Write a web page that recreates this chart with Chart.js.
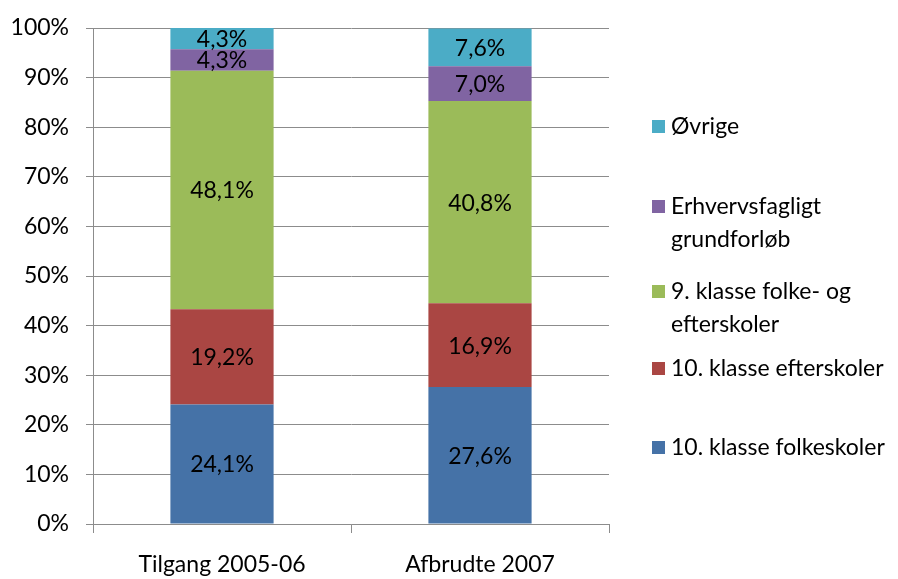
<!DOCTYPE html>
<html><head><meta charset="utf-8">
<script src="https://cdn.jsdelivr.net/npm/chart.js@4/dist/chart.umd.min.js"></script>
<style>html,body{margin:0;padding:0;background:#fff}#wrap{width:898px;height:579px}</style>
</head><body><div id="wrap"><canvas id="c" width="898" height="579"></canvas></div>
<script>
const categories = ['Tilgang 2005-06', 'Afbrudte 2007'];
const seriesNames = ['10. klasse folkeskoler', '10. klasse efterskoler', '9. klasse folke- og efterskoler', 'Erhvervsfagligt grundforløb', 'Øvrige'];
const folkeskoler10 = [24.1, 27.6];
const efterskoler10 = [19.2, 16.9];
const klasse9 = [48.1, 40.8];
const erhverv = [4.3, 7.0];
const ovrige = [4.3, 7.6];
const legendLines = [['10. klasse folkeskoler'], ['10. klasse efterskoler'], ['9. klasse folke- og', 'efterskoler'], ['Erhvervsfagligt', 'grundforløb'], ['Øvrige']];
const yTickValues = [0, 10, 20, 30, 40, 50, 60, 70, 80, 90, 100];

const FONT = 'Lato, "Open Sans", sans-serif';
const FS = 23;
const colors = ['#4572A7', '#AA4643', '#9BBB59', '#8064A2', '#4BACC6'];
const seriesData = [folkeskoler10, efterskoler10, klasse9, erhverv, ovrige];

const fmt = v => v.toFixed(1).replace('.', ',') + '%';

const labelPlugin = {
  id: 'barLabels',
  afterDatasetsDraw(chart) {
    const ctx = chart.ctx;
    ctx.save();
    ctx.font = FS + 'px ' + FONT;
    ctx.fillStyle = '#000';
    ctx.textAlign = 'center';
    ctx.textBaseline = 'middle';
    chart.data.datasets.forEach((ds, i) => {
      const meta = chart.getDatasetMeta(i);
      meta.data.forEach((el, j) => {
        const cy = (el.y + el.base) / 2;
        ctx.fillText(fmt(ds.data[j]), el.x, cy + 1);
      });
    });
    ctx.restore();
  }
};

const legendYs = [448, 369, 292, 207, 127];
const legendPlugin = {
  id: 'sideLegend',
  afterDraw(chart) {
    const ctx = chart.ctx;
    ctx.save();
    ctx.font = FS + 'px ' + FONT;
    ctx.textBaseline = 'middle';
    ctx.textAlign = 'left';
    chart.data.datasets.forEach((ds, i) => {
      const y = legendYs[i];
      ctx.fillStyle = ds.backgroundColor;
      ctx.fillRect(652, y - 7, 13, 13);
      ctx.fillStyle = '#000';
      legendLines[i].forEach((line, k) => {
        ctx.fillText(line, 671, y + k * 33);
      });
    });
    ctx.restore();
  }
};

new Chart(document.getElementById('c'), {
  type: 'bar',
  data: {
    labels: categories,
    datasets: seriesNames.map((name, i) => ({
      label: name,
      data: seriesData[i],
      backgroundColor: colors[i],
      borderWidth: 0,
      barPercentage: 0.4,
      categoryPercentage: 1.0
    }))
  },
  options: {
    responsive: false,
    animation: false,
    devicePixelRatio: 1,
    layout: { padding: { top: 28, right: 289, left: 0, bottom: 0 } },
    plugins: { legend: { display: false }, tooltip: { enabled: false } },
    scales: {
      x: {
        stacked: true,
        afterFit(scale) { scale.height = 55; scale.paddingLeft = 0; scale.paddingRight = 0; },
        grid: { drawOnChartArea: false, drawTicks: true, tickLength: 9, color: '#8c8c8c', offset: true },
        border: { display: true, color: '#8c8c8c' },
        ticks: { font: { family: FONT, size: FS }, color: '#000', padding: 18 }
      },
      y: {
        stacked: true,
        min: 0, max: 100,
        afterFit(scale) { scale.width = 93; scale.paddingTop = 0; scale.paddingBottom = 0; },
        afterBuildTicks(scale) { scale.ticks = yTickValues.map(v => ({ value: v })); },
        grid: { color: '#8c8c8c', tickLength: 7, drawTicks: true },
        border: { display: true, color: '#8c8c8c' },
        ticks: { font: { family: FONT, size: FS }, color: '#000', padding: 17, callback: v => v + '%' }
      }
    }
  },
  plugins: [labelPlugin, legendPlugin]
});
</script></body></html>
